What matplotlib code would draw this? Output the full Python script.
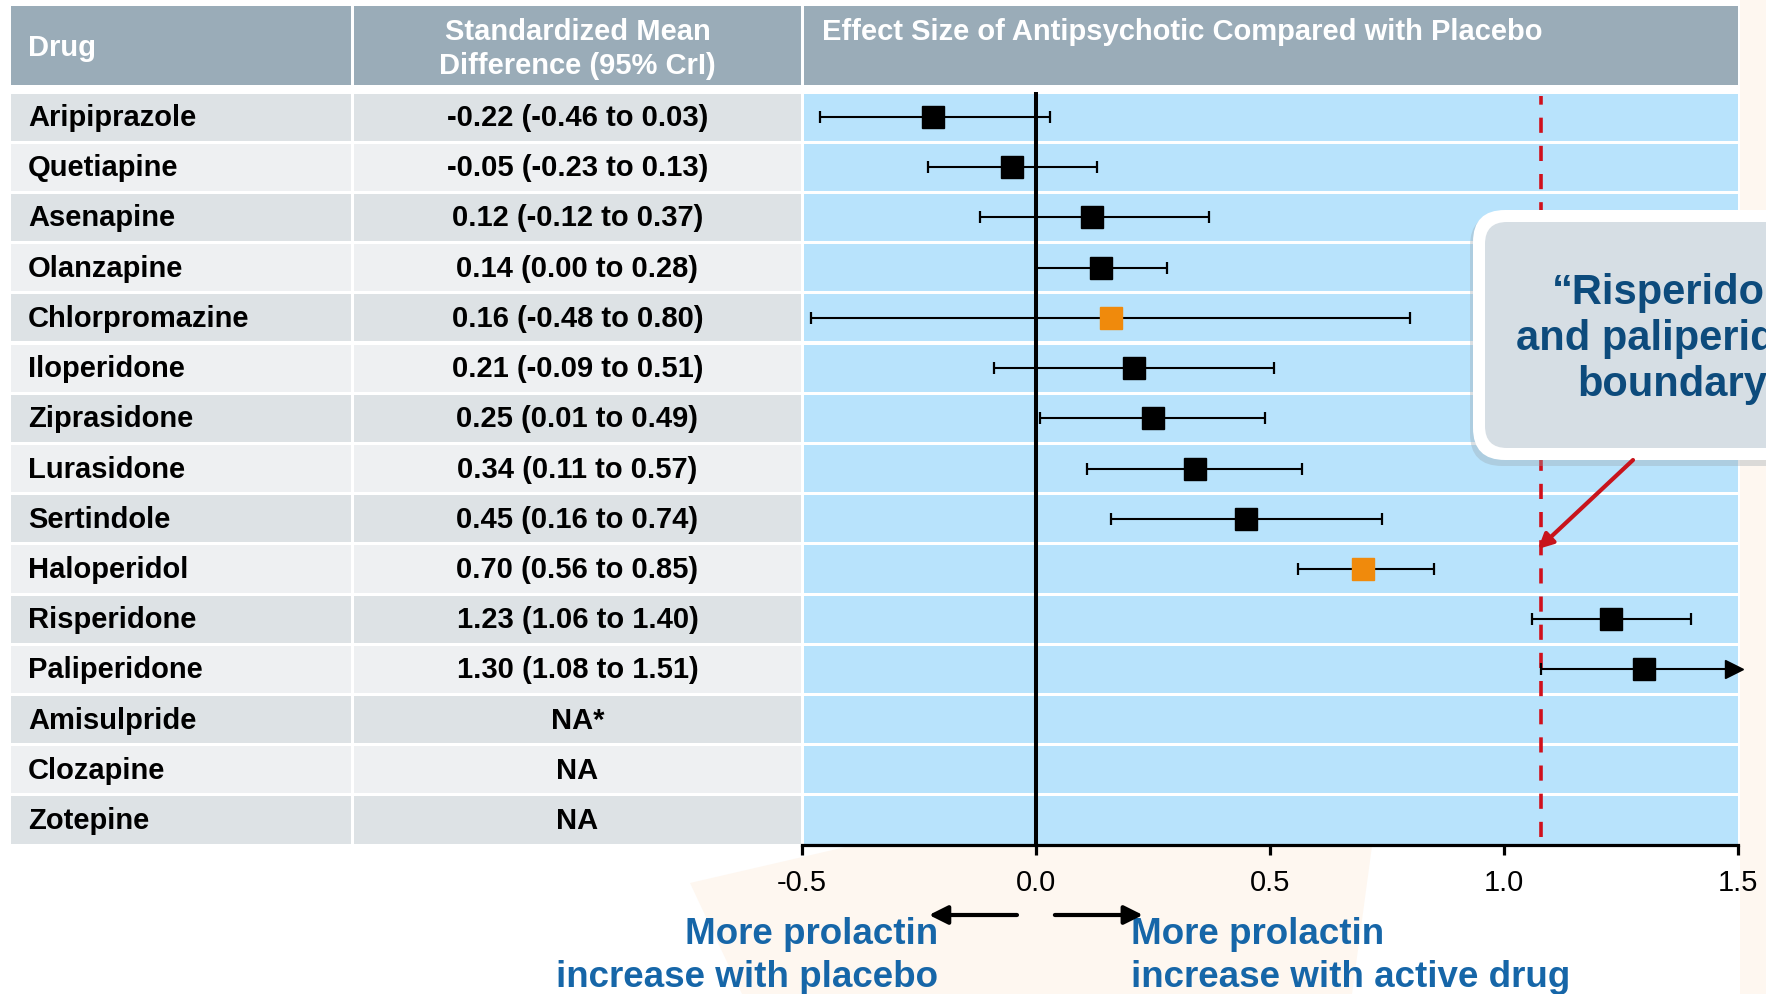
import numpy as np
import matplotlib
matplotlib.use("Agg")
import matplotlib.pyplot as plt
from matplotlib.patches import Rectangle, FancyBboxPatch, Polygon

plt.rcParams['font.family'] = ['Liberation Sans', 'DejaVu Sans']

# ---------------- data ----------------
drugs = ["Aripiprazole", "Quetiapine", "Asenapine", "Olanzapine", "Chlorpromazine",
         "Iloperidone", "Ziprasidone", "Lurasidone", "Sertindole", "Haloperidol",
         "Risperidone", "Paliperidone", "Amisulpride", "Clozapine", "Zotepine"]
smd = [-0.22, -0.05, 0.12, 0.14, 0.16, 0.21, 0.25, 0.34, 0.45, 0.70, 1.23, 1.30,
       np.nan, np.nan, np.nan]
ci_low = [-0.46, -0.23, -0.12, 0.00, -0.48, -0.09, 0.01, 0.11, 0.16, 0.56, 1.06, 1.08,
          np.nan, np.nan, np.nan]
ci_high = [0.03, 0.13, 0.37, 0.28, 0.80, 0.51, 0.49, 0.57, 0.74, 0.85, 1.40, 1.51,
           np.nan, np.nan, np.nan]
ci_text = ["-0.22 (-0.46 to 0.03)", "-0.05 (-0.23 to 0.13)", "0.12 (-0.12 to 0.37)",
           "0.14 (0.00 to 0.28)", "0.16 (-0.48 to 0.80)", "0.21 (-0.09 to 0.51)",
           "0.25 (0.01 to 0.49)", "0.34 (0.11 to 0.57)", "0.45 (0.16 to 0.74)",
           "0.70 (0.56 to 0.85)", "1.23 (1.06 to 1.40)", "1.30 (1.08 to 1.51)",
           "NA*", "NA", "NA"]
highlight = ["Chlorpromazine", "Haloperidol"]
header_labels = ["Drug", "Standardized Mean\nDifference (95% CrI)",
                 "Effect Size of Antipsychotic Compared with Placebo"]
xticks = [-0.5, 0.0, 0.5, 1.0, 1.5]
xtick_labels = ["-0.5", "0.0", "0.5", "1.0", "1.5"]
boundary = 1.08
left_note = "More prolactin\nincrease with placebo"
right_note = "More prolactin\nincrease with active drug"
callout_text = "\u201cRisperidone\nand paliperidone\nboundary\u201d"

# ---------------- layout ----------------
W, H = 1766, 994
fig = plt.figure(figsize=(W / 100, H / 100), dpi=100)
fig.patch.set_facecolor("white")

bg = fig.add_axes([0, 0, 1, 1])
bg.set_xlim(0, W)
bg.set_ylim(H, 0)
bg.axis("off")

# faint watermark shapes
peach = "#FEF7F0"
bg.add_patch(Polygon([(690, 883), (850, 846), (1372, 846), (1352, 994), (742, 994)],
                     closed=True, facecolor=peach, edgecolor="none", zorder=0))
bg.add_patch(Polygon([(1740, 0), (1766, 0), (1766, 994), (1740, 994)],
                     closed=True, facecolor=peach, edgecolor="none", zorder=0))

n = len(drugs)
ROW_TOP, ROW_H = 92.0, 50.2
TABLE_BOTTOM = ROW_TOP + n * ROW_H
cols = [(11, 351), (354, 801), (804, 1737.5)]
HEAD_TOP, HEAD_BOT = 6, 85

head_col = "#9AACB8"
dark_row, light_row = "#DDE2E5", "#EEF0F2"
blue_cell = "#B8E3FC"
txt_kw = dict(fontsize=21, fontweight="bold", color="black")

for c0, c1 in cols:
    bg.add_patch(Rectangle((c0, HEAD_TOP), c1 - c0, HEAD_BOT - HEAD_TOP,
                           facecolor=head_col, edgecolor="none", zorder=1))
bg.text(28, 48, header_labels[0], ha="left", va="center", color="white",
        fontsize=21, fontweight="bold")
bg.text((cols[1][0] + cols[1][1]) / 2, 49, header_labels[1], ha="center", va="center",
        color="white", fontsize=21, fontweight="bold", linespacing=1.27)
bg.text(822, 32, header_labels[2], ha="left", va="center", color="white",
        fontsize=21, fontweight="bold")

for i, name in enumerate(drugs):
    top = ROW_TOP + i * ROW_H + 1.5
    h = ROW_H - 3
    shade = dark_row if i % 2 == 0 else light_row
    bg.add_patch(Rectangle((cols[0][0], top), cols[0][1] - cols[0][0], h,
                           facecolor=shade, edgecolor="none", zorder=1))
    bg.add_patch(Rectangle((cols[1][0], top), cols[1][1] - cols[1][0], h,
                           facecolor=shade, edgecolor="none", zorder=1))
    bg.add_patch(Rectangle((cols[2][0], top), cols[2][1] - cols[2][0], h,
                           facecolor=blue_cell, edgecolor="none", zorder=1))
    yc = top + h / 2 + 1
    bg.text(28, yc, name, ha="left", va="center", **txt_kw)
    bg.text((cols[1][0] + cols[1][1]) / 2, yc, ci_text[i], ha="center", va="center", **txt_kw)

# ---------------- forest axes ----------------
ax = fig.add_axes([801.7 / W, (H - TABLE_BOTTOM) / H, 936 / W, (TABLE_BOTTOM - ROW_TOP) / H])
ax.patch.set_visible(False)
ax.set_xlim(-0.5, 1.5)
ax.set_ylim(n - 0.5, -0.5)
for s in ["top", "left", "right"]:
    ax.spines[s].set_visible(False)
ax.spines["bottom"].set_linewidth(2.3)
ax.set_yticks([])
ax.set_xticks(xticks)
ax.set_xticklabels(xtick_labels, fontsize=21)
ax.tick_params(axis="x", direction="out", length=7.5, width=2.3, pad=10)

ax.axvline(0, color="black", lw=2.9, zorder=3)
ax.axvline(boundary, ymin=0.01, ymax=0.995, color="#D0101C", lw=2.6,
           linestyle=(0, (4.2, 3.6)), zorder=2)

xmax = ax.get_xlim()[1]
for i, name in enumerate(drugs):
    if np.isnan(smd[i]):
        continue
    lo, hi = ci_low[i], ci_high[i]
    hi_draw = min(hi, xmax)
    ax.hlines(i, lo, hi_draw, color="black", lw=1.5, zorder=4)
    ax.plot([lo], [i], marker="|", ms=8.5, mew=1.6, color="black", zorder=4)
    if hi <= xmax:
        ax.plot([hi], [i], marker="|", ms=8.5, mew=1.6, color="black", zorder=4)
    else:
        ax.plot([xmax - 0.008], [i], marker=">", ms=13, color="black", zorder=4, clip_on=False)
    col = "#F08A0C" if name in highlight else "black"
    ax.plot([smd[i]], [i], marker="s", ms=16, color=col, mec=col, zorder=5)

# direction arrows and notes below axis
tr = ax.get_xaxis_transform()
ax_h = TABLE_BOTTOM - ROW_TOP
y_arrow = -(915 - TABLE_BOTTOM) / ax_h
ax.annotate("", xy=(-0.228, y_arrow), xytext=(-0.04, y_arrow), xycoords=tr, textcoords=tr,
            arrowprops=dict(arrowstyle="-|>", lw=3, color="black", mutation_scale=28,
                            shrinkA=0, shrinkB=0), annotation_clip=False)
ax.annotate("", xy=(0.229, y_arrow), xytext=(0.041, y_arrow), xycoords=tr, textcoords=tr,
            arrowprops=dict(arrowstyle="-|>", lw=3, color="black", mutation_scale=28,
                            shrinkA=0, shrinkB=0), annotation_clip=False)

note_col = "#1666A8"
bg.text(938, 956, left_note, ha="right", va="center", multialignment="right",
        color=note_col, fontsize=26.5, fontweight="bold", linespacing=1.28, zorder=6)
bg.text(1131, 956, right_note, ha="left", va="center", multialignment="left",
        color=note_col, fontsize=26.5, fontweight="bold", linespacing=1.28, zorder=6)

# ---------------- callout overlay ----------------
ov = fig.add_axes([0, 0, 1, 1])
ov.set_xlim(0, W)
ov.set_ylim(H, 0)
ov.axis("off")
ov.patch.set_visible(False)

ov.add_patch(FancyBboxPatch((1470, 214), 400, 252, boxstyle="round,pad=0,rounding_size=32",
                            facecolor="#9AA6AE", edgecolor="none", alpha=0.35, zorder=1))
ov.add_patch(FancyBboxPatch((1473, 210), 400, 250, boxstyle="round,pad=0,rounding_size=32",
                            facecolor="white", edgecolor="none", zorder=2))
ov.add_patch(FancyBboxPatch((1485, 222), 390, 226, boxstyle="round,pad=0,rounding_size=22",
                            facecolor="#D6DEE4", edgecolor="none", zorder=3))
ov.text(1683, 339, callout_text, ha="center", va="center", multialignment="center",
        color="#0D4B7C", fontsize=30, fontweight="bold", linespacing=1.2, zorder=4)
ov.annotate("", xy=(1538, 549), xytext=(1633, 460),
            arrowprops=dict(arrowstyle="-|>", lw=3, color="#C8141C", mutation_scale=22,
                            shrinkA=0, shrinkB=0), zorder=5)

fig.savefig("out.png", dpi=100, facecolor="white")
